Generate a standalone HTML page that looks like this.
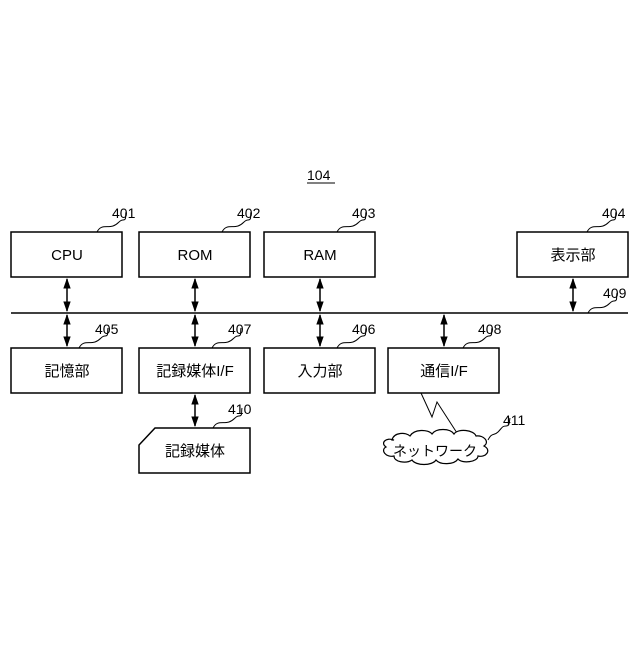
<!DOCTYPE html>
<html><head><meta charset="utf-8"><style>
body{margin:0;background:#fff}
svg text{font-family:"Liberation Sans","Noto Sans CJK JP",sans-serif;fill:#000}
</style></head><body>
<svg width="640" height="640" viewBox="0 0 640 640" xmlns="http://www.w3.org/2000/svg">
<defs>
<marker id="a" viewBox="0 0 10 10" refX="9" refY="5" markerWidth="7" markerHeight="7" orient="auto-start-reverse"><path d="M0,1.5 L10,5 L0,8.5z" fill="#000"/></marker>
</defs>
<g fill="none" stroke="#000" stroke-width="1.5">
<rect x="11" y="232" width="111" height="45"/>
<rect x="139" y="232" width="111" height="45"/>
<rect x="264" y="232" width="111" height="45"/>
<rect x="517" y="232" width="111" height="45"/>
<rect x="11" y="348" width="111" height="45"/>
<rect x="139" y="348" width="111" height="45"/>
<rect x="264" y="348" width="111" height="45"/>
<rect x="388" y="348" width="111" height="45"/>
<path d="M155,428 L250,428 L250,473 L139,473 L139,445 Z"/>
<line x1="11" y1="313" x2="628" y2="313"/>
</g>
<g stroke="#000" stroke-width="1.5" marker-start="url(#a)" marker-end="url(#a)">
<line x1="67" y1="279" x2="67" y2="311"/>
<line x1="195" y1="279" x2="195" y2="311"/>
<line x1="320" y1="279" x2="320" y2="311"/>
<line x1="573" y1="279" x2="573" y2="311"/>
<line x1="67" y1="315" x2="67" y2="346"/>
<line x1="195" y1="315" x2="195" y2="346"/>
<line x1="320" y1="315" x2="320" y2="346"/>
<line x1="444" y1="315" x2="444" y2="346"/>
<line x1="195" y1="395" x2="195" y2="426"/>
</g>
<g fill="none" stroke="#000" stroke-width="1">
<path d="M97,232 c4,-8 10,-4 16,-6 c6,-2 6,-6 10,-6 c4,0 2,-4 3,-8"/>
<path d="M222,232 c4,-8 10,-4 16,-6 c6,-2 6,-6 10,-6 c4,0 2,-4 3,-8"/>
<path d="M337,232 c4,-8 10,-4 16,-6 c6,-2 6,-6 10,-6 c4,0 2,-4 3,-8"/>
<path d="M587,232 c4,-8 10,-4 16,-6 c6,-2 6,-6 10,-6 c4,0 2,-4 3,-8"/>
<path d="M79,348 c4,-8 10,-4 16,-6 c6,-2 6,-6 10,-6 c4,0 2,-4 3,-8"/>
<path d="M212,348 c4,-8 10,-4 16,-6 c6,-2 6,-6 10,-6 c4,0 2,-4 3,-8"/>
<path d="M337,348 c4,-8 10,-4 16,-6 c6,-2 6,-6 10,-6 c4,0 2,-4 3,-8"/>
<path d="M463,348 c4,-8 10,-4 16,-6 c6,-2 6,-6 10,-6 c4,0 2,-4 3,-8"/>
<path d="M213,428 c4,-8 10,-4 16,-6 c6,-2 6,-6 10,-6 c4,0 2,-4 3,-8"/>
<path d="M588,313 c4,-8 10,-4 16,-6 c6,-2 6,-6 10,-6 c4,0 2,-4 3,-8"/>
<path d="M488,440 c4,-8 6,-4 10,-8 c4,-4 4,-6 8,-6 c4,0 3,-4 4,-8"/>
<path d="M421,393 L432,417 L437,402 L457,433"/>
<line x1="307" y1="183" x2="335" y2="183"/>
</g>
<path d="M392,440 c2,-8 14,-8 18,-4 c4,-7 18,-7 22,-2 c4,-6 18,-6 22,0 c4,-6 20,-4 22,2 c8,-1 14,6 8,10 c8,4 2,12 -6,10 c0,6 -16,8 -20,3 c-4,6 -18,6 -22,1 c-4,6 -20,6 -24,0 c-6,4 -18,2 -18,-4 c-8,2 -14,-6 -8,-9 c-6,-4 0,-10 8,-7z" fill="#fff" stroke="#000" stroke-width="1.2"/>
<g font-size="15" text-anchor="middle">
<text x="67" y="260">CPU</text>
<text x="195" y="260">ROM</text>
<text x="320" y="260">RAM</text>
<text x="573" y="260">表示部</text>
<text x="67" y="376">記憶部</text>
<text x="195" y="376">記録媒体I/F</text>
<text x="320" y="376">入力部</text>
<text x="444" y="376">通信I/F</text>
<text x="195" y="456">記録媒体</text>
<text x="435" y="456" font-size="14">ネットワーク</text>
</g>
<g font-size="14">
<text x="112" y="218">401</text>
<text x="237" y="218">402</text>
<text x="352" y="218">403</text>
<text x="602" y="218">404</text>
<text x="95" y="334">405</text>
<text x="228" y="334">407</text>
<text x="352" y="334">406</text>
<text x="478" y="334">408</text>
<text x="228" y="414">410</text>
<text x="603" y="298">409</text>
<text x="503" y="425">411</text>
<text x="307" y="180">104</text>
</g>
</svg>
</body></html>
